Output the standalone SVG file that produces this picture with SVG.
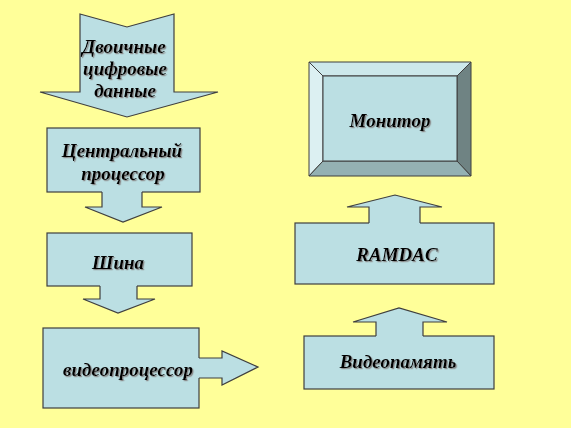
<svg xmlns="http://www.w3.org/2000/svg" width="571" height="428" viewBox="0 0 571 428">
<defs>
<filter id="sh" x="-10%" y="-20%" width="120%" height="150%">
<feDropShadow dx="1.2" dy="1.2" stdDeviation="0.3" flood-color="#8a8a8a" flood-opacity="1"/>
</filter>
<style>
.bx{fill:#bbdfe3;stroke:#3f3f3f;stroke-width:1.2}
.af{fill:#bbdfe3;stroke:none}
.al{fill:none;stroke:#3f3f3f;stroke-width:1.2}
.t{font-family:"Liberation Serif","Times New Roman",serif;font-weight:bold;font-style:italic;font-size:19px;fill:#000;text-anchor:middle;filter:url(#sh)}
</style>
</defs>
<rect x="0" y="0" width="571" height="428" fill="#ffff99"/>

<g id="input">
<polygon class="bx" points="80,14 127,27 174,14 174,92 218,92 127,117 40,92 80,92"/>
<text class="t" x="124" y="53">Двоичные</text>
<text class="t" x="125" y="75">цифровые</text>
<text class="t" x="125" y="97">данные</text>
</g>

<g id="cpu">
<rect class="bx" x="47" y="128" width="153" height="64"/>
<text class="t" x="122" y="157">Центральный</text>
<text class="t" x="123" y="180">процессор</text>
</g>

<g id="bus">
<rect class="bx" x="47" y="233" width="145" height="53"/>
<text class="t" x="118" y="269">Шина</text>
</g>

<g id="gpu">
<rect class="bx" x="43" y="328" width="156" height="80"/>
<text class="t" x="128" y="376">видеопроцессор</text>
</g>

<g id="monitor">
<polygon points="309,62 471,62 457,76 323,76" fill="#cde8eb" stroke="#3f3f3f" stroke-width="1"/>
<polygon points="309,62 323,76 323,161 309,176" fill="#dcf0f2" stroke="#3f3f3f" stroke-width="1"/>
<polygon points="471,62 471,176 457,161 457,76" fill="#6f8383" stroke="#3f3f3f" stroke-width="1"/>
<polygon points="309,176 323,161 457,161 471,176" fill="#94b1b3" stroke="#3f3f3f" stroke-width="1"/>
<rect x="323" y="76" width="134" height="85" fill="#bbdfe3" stroke="#3f3f3f" stroke-width="1"/>
<text class="t" x="390" y="127">Монитор</text>
</g>

<g id="ramdac">
<rect class="bx" x="295" y="223" width="199" height="61"/>
<text class="t" x="397" y="261">RAMDAC</text>
</g>

<g id="vram">
<rect class="bx" x="304" y="336" width="190" height="53"/>
<text class="t" x="398" y="368">Видеопамять</text>
</g>

<g id="connectors">
<polygon class="af" points="102,191 142,191 142,207 162,207 123,222 85,207 102,207"/>
<polyline class="al" points="142,192 142,207 162,207 123,222 85,207 102,207 102,192"/>
<polygon class="af" points="100,285 137,285 137,299 155,299 118,313 83,299 100,299"/>
<polyline class="al" points="137,286 137,299 155,299 118,313 83,299 100,299 100,286"/>
<polygon class="af" points="198,358 222,358 222,351 258,367 222,385 222,378 198,378"/>
<polyline class="al" points="199,358 222,358 222,351 258,367 222,385 222,378 199,378"/>
<polygon class="af" points="369,224 369,207 347,207 395,195 442,207 420,207 420,224"/>
<polyline class="al" points="369,223 369,207 347,207 395,195 442,207 420,207 420,223"/>
<polygon class="af" points="376,337 376,322 353,322 399,308 447,322 423,322 423,337"/>
<polyline class="al" points="376,336 376,322 353,322 399,308 447,322 423,322 423,336"/>
</g>
</svg>
